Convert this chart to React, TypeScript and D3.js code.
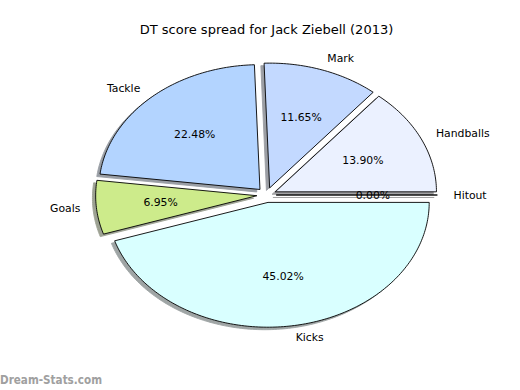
import React from "react";
import * as d3 from "d3";

const categories = ["Handballs", "Mark", "Tackle", "Goals", "Kicks", "Hitout"];
const percents = [13.9, 11.65, 22.48, 6.95, 45.02, 0.0];
const colors = ["#ebf1ff", "#c3d9ff", "#b3d4ff", "#cdeb8b", "#d9ffff", "#eeeeee"];
const title = "DT score spread for Jack Ziebell (2013)";
const explode = 0.06;

const W = 520;
const H = 390;

export default function App() {
  const x = d3.scaleLinear().domain([-1.25, 1.25]).range([65, 468]);
  const y = d3.scaleLinear().domain([-1.25, 1.25]).range([351, 39]);
  const pie = d3
    .pie<number>()
    .sort(null)
    .startAngle(0)
    .endAngle(2 * Math.PI);
  const arcs = pie(percents);
  const line = d3
    .line<[number, number]>()
    .x((d) => x(d[0]))
    .y((d) => y(d[1]));

  const wedgePts = (a0: number, a1: number, cx: number, cy: number) => {
    const pts: [number, number][] = [[cx, cy]];
    const n = Math.max(2, Math.ceil(((a1 - a0) * 180) / Math.PI));
    for (let i = 0; i <= n; i++) {
      const t = a0 + ((a1 - a0) * i) / n;
      pts.push([cx + Math.cos(t), cy + Math.sin(t)]);
    }
    pts.push([cx, cy]);
    return pts;
  };

  const items = arcs.map((a, i) => {
    const mid = (a.startAngle + a.endAngle) / 2;
    const cx = explode * Math.cos(mid);
    const cy = explode * Math.sin(mid);
    return { a, i, mid, cx, cy };
  });

  const shadowColor = (c: string) => {
    const r = d3.rgb(c);
    return d3.rgb(r.r * 0.3, r.g * 0.3, r.b * 0.3).toString();
  };

  const font = "DejaVu Sans, sans-serif";

  return (
    <svg width={W} height={H} style={{ position: "absolute", left: 0, top: 0 }}>
      <rect x={0} y={0} width={W} height={H} fill="#ffffff" />
      <text x={266.5} y={34} textAnchor="middle" fontFamily={font} fontSize={13} fill="#000">
        {title}
      </text>
      {items.map(({ a, i, cx, cy }) => (
        <path
          key={"s" + i}
          d={line(wedgePts(a.startAngle, a.endAngle, cx - 0.02, cy - 0.02)) || ""}
          fill={shadowColor(colors[i])}
          stroke={shadowColor(colors[i])}
          strokeWidth={0.9}
          opacity={0.5}
        />
      ))}
      {items.map(({ a, i, cx, cy }) => (
        <path
          key={"w" + i}
          d={line(wedgePts(a.startAngle, a.endAngle, cx, cy)) || ""}
          fill={colors[i]}
          stroke="#000"
          strokeWidth={0.9}
          strokeLinejoin="round"
        />
      ))}
      {items.map(({ i, mid, cx, cy }) => {
        const lx = cx + 1.1 * Math.cos(mid);
        const ly = cy + 1.1 * Math.sin(mid);
        const px = cx + 0.6 * Math.cos(mid);
        const py = cy + 0.6 * Math.sin(mid);
        return (
          <g key={"t" + i}>
            <text
              x={x(lx)}
              y={y(ly)}
              textAnchor={lx > 0 ? "start" : "end"}
              dominantBaseline="central"
              fontFamily={font}
              fontSize={10.83}
              fill="#000"
            >
              {categories[i]}
            </text>
            <text
              x={x(px)}
              y={y(py)}
              textAnchor="middle"
              dominantBaseline="central"
              fontFamily={font}
              fontSize={10.83}
              fill="#000"
            >
              {percents[i].toFixed(2) + "%"}
            </text>
          </g>
        );
      })}
      <text
        x={0}
        y={384}
        fontFamily={font}
        fontSize={12.5}
        fontWeight={600}
        fill="#a0a0a0"
        textLength={102}
        lengthAdjust="spacingAndGlyphs"
      >
        Dream-Stats.com
      </text>
    </svg>
  );
}
